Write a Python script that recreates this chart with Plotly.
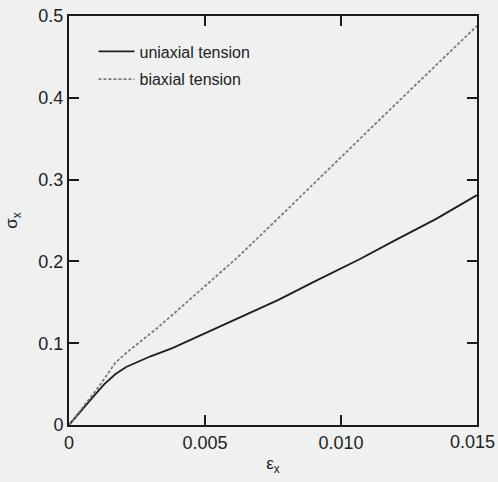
import plotly.graph_objects as go

# Data
uni_x = [0, 0.0005, 0.0009, 0.0013, 0.0017, 0.0021, 0.0025, 0.0030, 0.0038, 0.0046,
         0.0055, 0.0065, 0.0077, 0.0090, 0.0107, 0.0120, 0.0135, 0.0150]
uni_y = [0, 0.020, 0.035, 0.050, 0.062, 0.071, 0.077, 0.084, 0.094, 0.106,
         0.120, 0.135, 0.153, 0.175, 0.203, 0.226, 0.252, 0.281]

bi_x = [0, 0.0005, 0.0011, 0.0017, 0.0021, 0.0033, 0.0048, 0.0062, 0.0077, 0.0094, 0.0106, 0.0120, 0.0150]
bi_y = [0, 0.021, 0.047, 0.076, 0.088, 0.120, 0.164, 0.205, 0.253, 0.308, 0.347, 0.392, 0.488]

x_tickvals = [0, 0.005, 0.010, 0.015]
x_ticktext = ["0", "0.005", "0.010", "0.015"]
y_tickvals = [0, 0.1, 0.2, 0.3, 0.4, 0.5]
y_ticktext = ["0", "0.1", "0.2", "0.3", "0.4", "0.5"]

BG = "#eef1f0"
FONT = "Liberation Sans, Arial, sans-serif"
TICKFONT = dict(family=FONT, size=18, color="#222")

fig = go.Figure()
fig.add_trace(go.Scatter(x=uni_x, y=uni_y, mode="lines", name="uniaxial tension",
                         legendgroup="a",
                         line=dict(color="#1e1e1e", width=1.8)))
fig.add_trace(go.Scatter(x=bi_x, y=bi_y, mode="lines", name="biaxial tension",
                         legendgroup="b",
                         line=dict(color="#7a7a7a", width=1.8, dash="3px,2px")))

axis_common = dict(
    showline=True, linecolor="#1a1a1a", linewidth=2, mirror="ticks",
    ticks="inside", ticklen=10, tickwidth=1.5, tickcolor="#1a1a1a",
    showgrid=False, zeroline=False, automargin=False,
    tickfont=TICKFONT,
)

# last x tick label sits flush with the right edge, drawn as an annotation
x_shown = x_ticktext[:-1] + [""]

fig.update_layout(
    width=498, height=482,
    margin=dict(l=69, r=21, t=16, b=57, autoexpand=False),
    paper_bgcolor=BG, plot_bgcolor=BG,
    font=dict(family=FONT, color="#222"),
    xaxis=dict(range=[0, 0.015], tickvals=x_tickvals, ticktext=x_shown,
               title=dict(text="ε<sub>x</sub>", font=dict(size=17), standoff=6),
               **axis_common),
    yaxis=dict(range=[0, 0.5], tickvals=y_tickvals, ticktext=y_ticktext,
               title=dict(text="σ<sub>x</sub>", font=dict(size=17), standoff=16),
               **axis_common),
    legend=dict(x=0.06, y=0.955, xanchor="left", yanchor="top",
                bgcolor="rgba(0,0,0,0)", borderwidth=0,
                font=dict(family=FONT, size=16, color="#222"),
                tracegroupgap=4, itemwidth=36),
    showlegend=True,
)

fig.add_annotation(x=x_tickvals[-1], y=0, xref="x", yref="paper",
                   text=x_ticktext[-1], showarrow=False,
                   xanchor="right", yanchor="top", xshift=20, yshift=-5,
                   font=TICKFONT)

fig.write_html("out.html")
